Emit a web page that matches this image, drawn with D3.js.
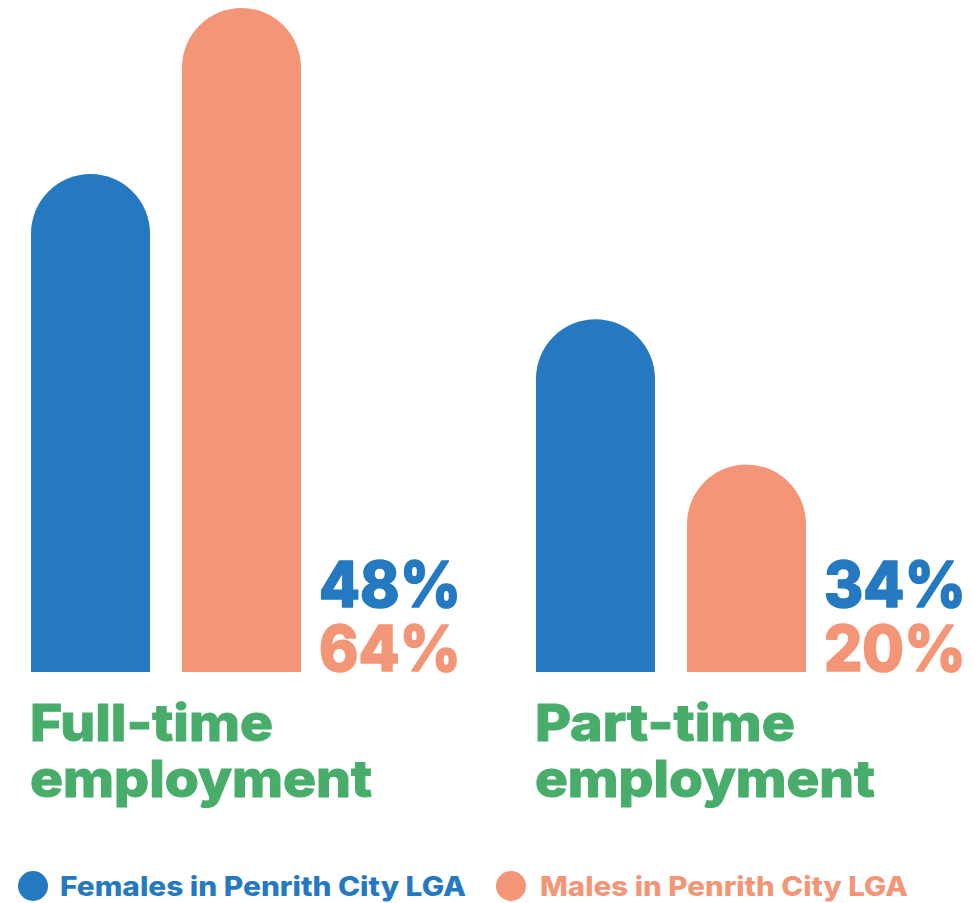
<!DOCTYPE html>
<html>
<head>
<meta charset="utf-8">
<script src="https://cdn.jsdelivr.net/npm/d3@7"></script>
<style>
  html, body { margin: 0; padding: 0; background: #ffffff; }
  svg { display: block; }
  text { font-family: Inter, "Open Sans", sans-serif; font-weight: 800; }
</style>
</head>
<body>
<svg id="chart" width="974" height="903"></svg>
<script>
// Employment type shares by sex, Penrith City LGA
const categories = ["Full-time employment", "Part-time employment"];
const categoryLines = [["Full-time", "employment"], ["Part-time", "employment"]];
const seriesNames = ["Females in Penrith City LGA", "Males in Penrith City LGA"];
const females = [48, 34];
const males = [64, 20];

const colors = { Females: "#2479c1", Males: "#f39677", label: "#48ad6b" };
const seriesColors = [colors.Females, colors.Males];

const svg = d3.select("#chart");

const x0 = d3.scaleBand().domain(categories).range([31, 806]).paddingInner(0.4653).paddingOuter(0);
const x1 = d3.scaleBand().domain(seriesNames).range([0, x0.bandwidth()]).paddingInner(0.212).paddingOuter(0);
const y = d3.scaleLinear().domain([0, 64]).range([672, 8]);

const rows = categories.map((c, i) => ({
  category: c,
  lines: categoryLines[i],
  values: [
    { series: seriesNames[0], value: females[i], color: seriesColors[0] },
    { series: seriesNames[1], value: males[i], color: seriesColors[1] }
  ]
}));

// Bar with a semicircular top; the apex of the arc sits at the value
function pillPath(x, w, yTop, yBase) {
  const r = w / 2;
  const p = d3.path();
  p.moveTo(x, yBase);
  p.lineTo(x, yTop + r);
  p.arc(x + r, yTop + r, r, Math.PI, 0);
  p.lineTo(x + w, yBase);
  p.closePath();
  return p.toString();
}

const groups = svg.selectAll("g.group").data(rows).join("g")
  .attr("class", "group")
  .attr("transform", d => `translate(${x0(d.category)},0)`);

groups.selectAll("path.bar").data(d => d.values).join("path")
  .attr("class", "bar")
  .attr("d", d => pillPath(x1(d.series), x1.bandwidth(), y(d.value), y(0)))
  .attr("fill", d => d.color);

// Value labels to the right of each pair
const labelX = x0.bandwidth() + 18;
groups.selectAll("text.value").data(d => d.values).join("text")
  .attr("class", "value")
  .attr("x", labelX)
  .attr("y", (d, i) => i === 0 ? 607 : 671)
  .attr("fill", d => d.color)
  .attr("stroke", d => d.color)
  .attr("stroke-width", 1.6)
  .attr("stroke-linejoin", "round")
  .attr("font-size", 63)
  .attr("textLength", 142)
  .attr("lengthAdjust", "spacingAndGlyphs")
  .text(d => d.value + "%");

// Category labels under the bars
const catWidths = [[243, 342], [260, 340]];
groups.each(function(d, gi) {
  const g = d3.select(this);
  d.lines.forEach((line, li) => {
    g.append("text")
      .attr("x", -1)
      .attr("y", li === 0 ? 741 : 797)
      .attr("fill", colors.label)
      .attr("stroke", colors.label)
      .attr("stroke-width", 1)
      .attr("stroke-linejoin", "round")
      .attr("font-size", 51)
      .attr("textLength", catWidths[gi][li])
      .attr("lengthAdjust", "spacingAndGlyphs")
      .text(line);
  });
});

// Legend
const legendItems = [
  { name: seriesNames[0], color: seriesColors[0], cx: 33, tx: 60, tw: 406 },
  { name: seriesNames[1], color: seriesColors[1], cx: 511, tx: 540, tw: 368 }
];
const legend = svg.append("g").attr("class", "legend");
legend.selectAll("circle").data(legendItems).join("circle")
  .attr("cx", d => d.cx).attr("cy", 886).attr("r", 15)
  .attr("fill", d => d.color);
legend.selectAll("text").data(legendItems).join("text")
  .attr("x", d => d.tx).attr("y", 896)
  .attr("fill", d => d.color)
  .attr("font-size", 27)
  .attr("textLength", d => d.tw)
  .attr("lengthAdjust", "spacingAndGlyphs")
  .text(d => d.name);
</script>
</body>
</html>
